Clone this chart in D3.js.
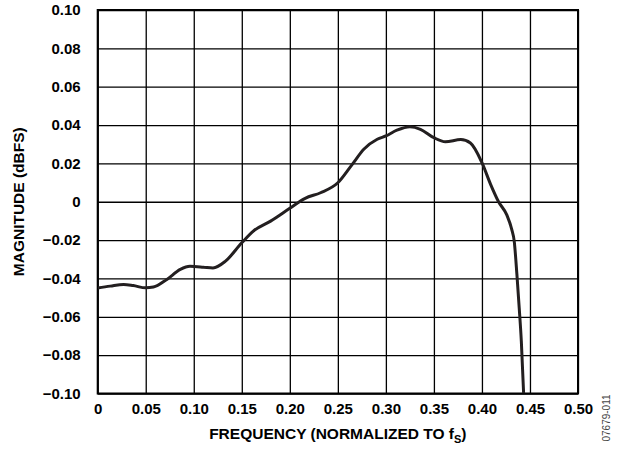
<!DOCTYPE html>
<html>
 <head>
    <title>Magnitude vs Frequency</title>
    <script src="https://d3js.org/d3.v7.min.js"></script>
    <style>
      body { margin: 0; background: #fff; }
      text { font-family: "Liberation Sans", Arial, Helvetica, sans-serif; }
    </style>
 </head>
 <body>
    <div id="chart"></div>
    <script>
      // tick values and labels
      var xTicks = [0, 0.05, 0.10, 0.15, 0.20, 0.25, 0.30, 0.35, 0.40, 0.45, 0.50];
      var xTickLabels = ["0", "0.05", "0.10", "0.15", "0.20", "0.25", "0.30", "0.35", "0.40", "0.45", "0.50"];
      var yTicks = [0.10, 0.08, 0.06, 0.04, 0.02, 0, -0.02, -0.04, -0.06, -0.08, -0.10];
      var yTickLabels = ["0.10", "0.08", "0.06", "0.04", "0.02", "0", "\u22120.02", "\u22120.04", "\u22120.06", "\u22120.08", "\u22120.10"];

      // response curve
      var freq = [0, 0.013, 0.027, 0.037, 0.05, 0.058, 0.072, 0.086, 0.096, 0.11,
                  0.12, 0.133, 0.15, 0.162, 0.18, 0.20, 0.216, 0.232, 0.25, 0.265,
                  0.277, 0.291, 0.30, 0.3115, 0.325, 0.336, 0.35, 0.362, 0.378, 0.388,
                  0.40, 0.409, 0.4173, 0.426, 0.431, 0.4336, 0.4364, 0.4388, 0.441, 0.4434];
      var magnitude = [-0.045, -0.044, -0.0431, -0.0437, -0.0449, -0.0445, -0.0405, -0.0353, -0.0337, -0.0341,
                       -0.0345, -0.031, -0.0214, -0.0153, -0.0101, -0.0034, 0.0018, 0.0047, 0.0099, 0.0195,
                       0.0274, 0.0326, 0.0343, 0.0373, 0.0391, 0.0378, 0.0334, 0.0313, 0.0324, 0.0306,
                       0.0204, 0.0091, 0, -0.007, -0.0144, -0.0205, -0.0379, -0.0553, -0.0727, -0.10];

      var width = 621;
      var height = 454;
      var plotLeft = 97.7, plotRight = 578, plotTop = 10, plotBottom = 393.5;

      var svg = d3.select("#chart")
        .append("svg")
        .attr("width", width)
        .attr("height", height);

      var x = d3.scaleLinear().domain([0, 0.5]).range([plotLeft, plotRight]);
      var y = d3.scaleLinear().domain([-0.1, 0.1]).range([plotBottom, plotTop]);

      // x axis with full-height grid lines
      var xAxis = d3.axisBottom(x)
        .tickValues(xTicks)
        .tickSize(-(plotBottom - plotTop))
        .tickPadding(10)
        .tickFormat(function (d, i) { return xTickLabels[i]; });

      var gx = svg.append("g")
        .attr("transform", "translate(0," + plotBottom + ")")
        .call(xAxis);
      gx.select(".domain").remove();

      // y axis with full-width grid lines
      var yAxis = d3.axisLeft(y)
        .tickValues(yTicks)
        .tickSize(-(plotRight - plotLeft))
        .tickPadding(17)
        .tickFormat(function (d, i) { return yTickLabels[i]; });

      var gy = svg.append("g")
        .attr("transform", "translate(" + plotLeft + ",0)")
        .call(yAxis);
      gy.select(".domain").remove();

      svg.selectAll(".tick line")
        .attr("stroke", "#000")
        .attr("stroke-width", 1.3);

      svg.selectAll(".tick text")
        .attr("fill", "#000")
        .style("font-size", "15px")
        .style("font-weight", "bold");

      // plot border
      svg.append("rect")
        .attr("x", plotLeft)
        .attr("y", plotTop)
        .attr("width", plotRight - plotLeft)
        .attr("height", plotBottom - plotTop)
        .attr("fill", "none")
        .attr("stroke", "#000")
        .attr("stroke-width", 2);

      // clip the curve to the plot
      svg.append("clipPath")
        .attr("id", "clip")
        .append("rect")
        .attr("x", plotLeft)
        .attr("y", plotTop)
        .attr("width", plotRight - plotLeft)
        .attr("height", plotBottom - plotTop);

      var points = freq.map(function (f, i) { return [f, magnitude[i]]; });

      var line = d3.line()
        .x(function (d) { return x(d[0]); })
        .y(function (d) { return y(d[1]); })
        .curve(d3.curveMonotoneX);

      svg.append("path")
        .datum(points)
        .attr("clip-path", "url(#clip)")
        .attr("fill", "none")
        .attr("stroke", "#231f20")
        .attr("stroke-width", 3)
        .attr("stroke-linejoin", "round")
        .attr("d", line);

      // axis titles
      var xTitle = svg.append("text")
        .attr("x", (plotLeft + plotRight) / 2)
        .attr("y", 439)
        .attr("text-anchor", "middle")
        .style("font-size", "15.5px")
        .style("font-weight", "bold")
        .text("FREQUENCY (NORMALIZED TO f");
      xTitle.append("tspan")
        .attr("dy", 4)
        .style("font-size", "11px")
        .text("S");
      xTitle.append("tspan")
        .attr("dy", -4)
        .text(")");

      svg.append("text")
        .attr("transform", "translate(24," + (plotTop + plotBottom) / 2 + ") rotate(-90)")
        .attr("text-anchor", "middle")
        .style("font-size", "15.5px")
        .style("font-weight", "bold")
        .text("MAGNITUDE (dBFS)");

      // figure number
      svg.append("text")
        .attr("transform", "translate(610,418) rotate(-90)")
        .attr("text-anchor", "middle")
        .attr("fill", "#444")
        .style("font-size", "10px")
        .text("07679-011");
    </script>
 </body>
</html>
